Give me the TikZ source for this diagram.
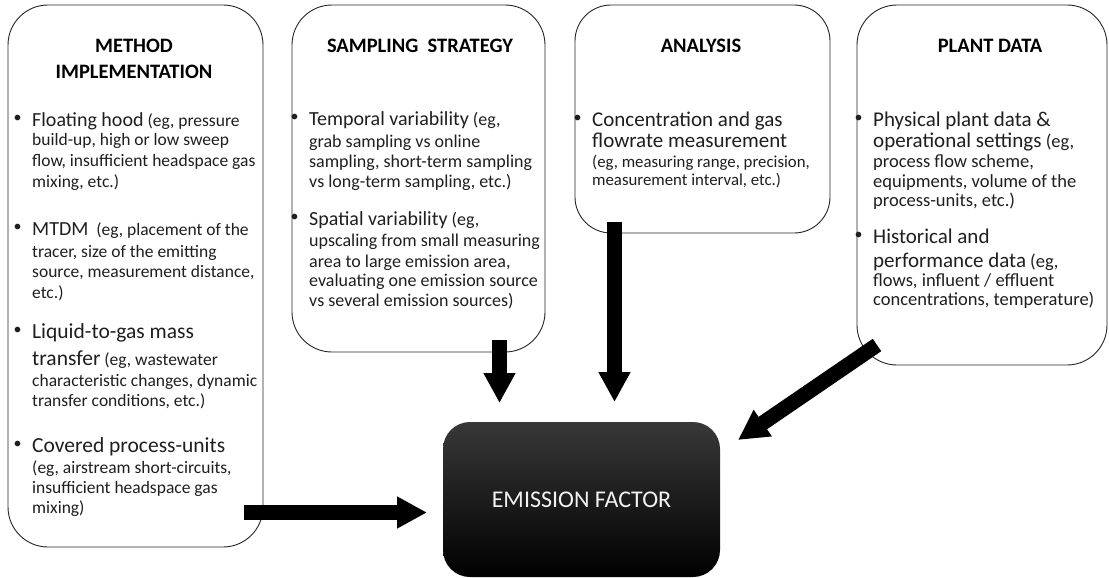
\documentclass[tikz,border=0pt]{standalone}
\usepackage{fontspec}
\setmainfont{Carlito}
\usetikzlibrary{arrows.meta}
\newcommand\fs[1]{\fontsize{#1}{#1}\selectfont}
\newcommand\tf{\fontsize{20.5}{24}\selectfont\bfseries}
\newcommand\bul{\llap{\raisebox{3.5pt}{\fontsize{16}{16}\selectfont\textbullet}\hspace{10.5pt}}}
\begin{document}
\begin{tikzpicture}[x=1pt,y=-1pt,
  panel/.style={draw=black!85, line width=0.9pt, inner sep=0pt, fill=white},
  ttl/.style={anchor=base, inner sep=0pt, font=\tf, text=black},
  ln/.style={anchor=base west, inner sep=0pt, text=black!88},
  blk/.style={line width=15pt, draw=black, -{Triangle[length=30pt,width=30pt]}},
  efbox/.style={rounded corners=27pt, minimum width=277pt, minimum height=155pt, inner sep=0pt,
    top color=black!78, middle color=black, bottom color=black, text=white!95!black,
    font=\fontsize{24}{28}\selectfont},
]
\useasboundingbox (0,0) rectangle (1109,578);
\fill[white] (0,0) rectangle (1109,578);

% panels
\node[panel, rounded corners=40pt, minimum width=255pt, minimum height=542pt] (m) at (135.5,276) {};
\node[panel, rounded corners=40pt, minimum width=253pt, minimum height=347pt] (s) at (418.5,178.5) {};
\node[panel, rounded corners=36pt, minimum width=255pt, minimum height=228pt] (a) at (702.5,119) {};
\node[panel, rounded corners=40pt, minimum width=250pt, minimum height=360pt] (p) at (982,185) {};

% METHOD IMPLEMENTATION
\node[ttl] (mt1) at (134,53) {METHOD};
\node[ttl] (mt2) at (134,78) {IMPLEMENTATION};
\begin{scope}[ln/.append style={font=\fs{17.5}}]
\node[ln] (m1) at (32,126) {\bul{\fs{20}Floating hood} (eg, pressure};
\node[ln] (m2) at (32,145) {build-up, high or low sweep};
\node[ln] (m3) at (32,166) {flow, insufficient headspace gas};
\node[ln] (m4) at (32,187) {mixing, etc.)};
\node[ln] (m5) at (32,235) {\bul{\fs{20}MTDM}\ \ (eg, placement of the};
\node[ln] (m6) at (32,257) {tracer, size of the emitting};
\node[ln] (m7) at (32,277) {source, measurement distance,};
\node[ln] (m8) at (32,298) {etc.)};
\node[ln] (m9) at (32,338) {\bul{\fs{21.5}Liquid-to-gas mass}};
\node[ln] (m10) at (32,365) {{\fs{21.5}transfer} (eg, wastewater};
\node[ln] (m11) at (32,386) {characteristic changes, dynamic};
\node[ln] (m12) at (32,406) {transfer conditions, etc.)};
\node[ln] (m13) at (32,452) {\bul{\fs{21.5}Covered process-units}};
\node[ln] (m14) at (32,473) {(eg, airstream short-circuits,};
\node[ln] (m15) at (32,493) {insufficient headspace gas};
\node[ln] (m16) at (32,513) {mixing)};
\end{scope}

% SAMPLING STRATEGY
\node[ttl] (st) at (420,53) {SAMPLING\ \ STRATEGY};
\begin{scope}[ln/.append style={font=\fs{18}}]
\node[ln] (s1) at (309,125) {\bul{\fs{20}Temporal variability} (eg,};
\node[ln] (s2) at (309,147) {grab sampling vs online};
\node[ln] (s3) at (309,167) {sampling, short-term sampling};
\node[ln] (s4) at (309,187) {vs long-term sampling, etc.)};
\node[ln] (s5) at (309,225) {\bul{\fs{20}Spatial variability} (eg,};
\node[ln] (s6) at (309,246) {upscaling from small measuring};
\node[ln] (s7) at (309,267) {area to large emission area,};
\node[ln] (s8) at (309,286) {evaluating one emission source};
\node[ln] (s9) at (309,306) {vs several emission sources)};
\end{scope}

% ANALYSIS
\node[ttl] (at) at (701,53) {ANALYSIS};
\begin{scope}[ln/.append style={font=\fs{16.8}}]
\node[ln] (a1) at (592,126) {\bul{\fs{21}Concentration and gas}};
\node[ln] (a2) at (592,147) {{\fs{21}flowrate measurement}};
\node[ln] (a3) at (592,167) {(eg, measuring range, precision,};
\node[ln] (a4) at (592,185) {measurement interval, etc.)};
\end{scope}

% PLANT DATA
\node[ttl] (pt) at (990,53) {PLANT DATA};
\begin{scope}[ln/.append style={font=\fs{18.5}}]
\node[ln] (p1) at (873,126) {\bul{\fs{21}Physical plant data \&}};
\node[ln] (p2) at (873,147) {{\fs{21}operational settings} (eg,};
\node[ln] (p3) at (873,167) {process flow scheme,};
\node[ln] (p4) at (873,187) {equipments, volume of the};
\node[ln] (p5) at (873,206) {process-units, etc.)};
\node[ln] (p6) at (873,243) {\bul{\fs{21}Historical and}};
\node[ln] (p7) at (873,267) {{\fs{21}performance data} (eg,};
\node[ln] (p8) at (873,286) {flows, influent / effluent};
\node[ln] (p9) at (873,305) {concentrations, temperature)};
\end{scope}

% EMISSION FACTOR
\node[efbox] (ef) at (581.5,499.5) {EMISSION FACTOR};

% arrows
\coordinate (mA) at (244,512.5);
\coordinate (efW) at (427,512.5);
\coordinate (sA) at (499.5,340);
\coordinate (efN1) at (499.5,403);
\coordinate (aA) at (614.5,222);
\coordinate (efN2) at (614.5,402);
\coordinate (pA) at (877,345);
\coordinate (efE) at (738,440);
\draw[blk] (mA) -- (efW);
\draw[blk] (sA) -- (efN1);
\draw[blk] (aA) -- (efN2);
\draw[blk] (pA) -- (efE);
\end{tikzpicture}
\end{document}
